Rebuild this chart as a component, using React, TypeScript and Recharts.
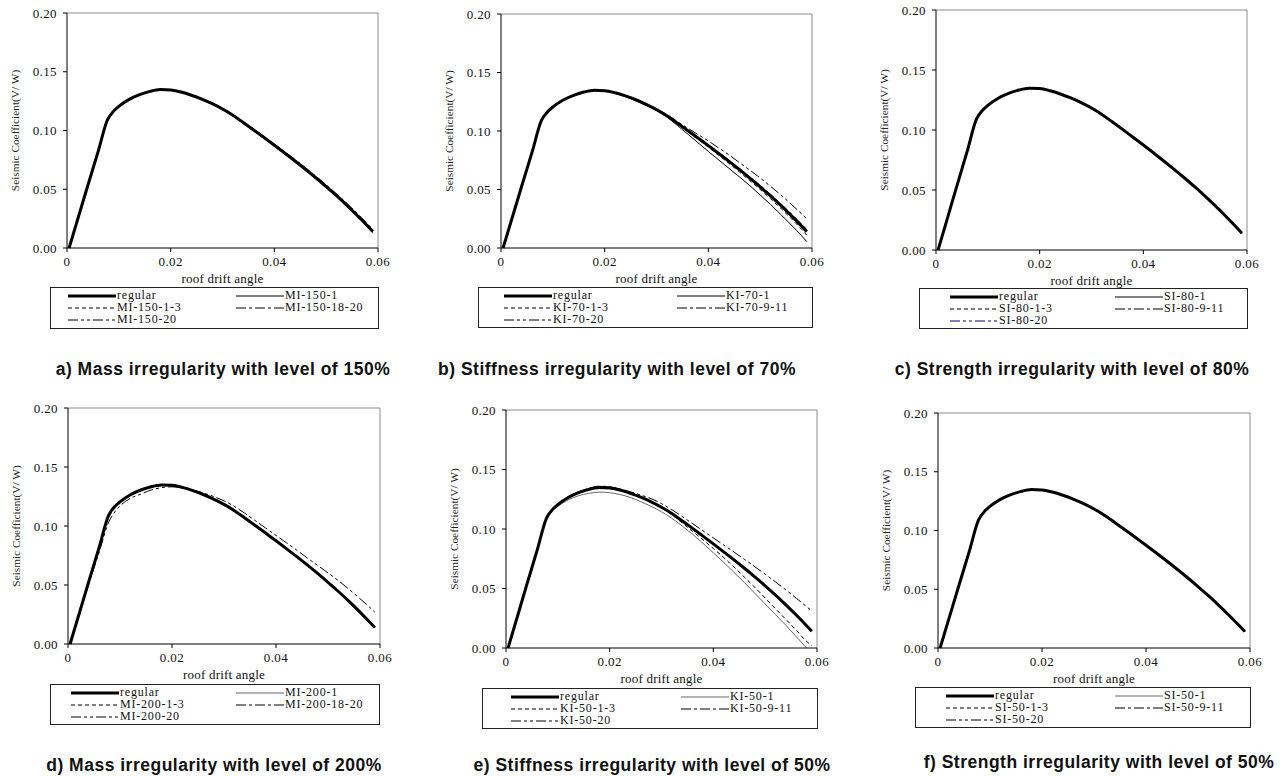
import { LineChart, Line, XAxis, YAxis, ReferenceLine } from 'recharts';

// roof drift angle sample points shared by every curve
const DRIFT = [0.0004, 0.002, 0.004, 0.006, 0.0078, 0.009, 0.010, 0.012, 0.014, 0.016, 0.018, 0.020, 0.022, 0.024, 0.026, 0.028, 0.030, 0.032, 0.034, 0.036, 0.038, 0.040, 0.042, 0.044, 0.046, 0.048, 0.050, 0.052, 0.054, 0.056, 0.058, 0.059];

const REGULAR = [0, 0.0235, 0.053, 0.082, 0.109, 0.1165, 0.1205, 0.1265, 0.1305, 0.1333, 0.1348, 0.1345, 0.1327, 0.1300, 0.1267, 0.1228, 0.1183, 0.1130, 0.1068, 0.1005, 0.0940, 0.0875, 0.0808, 0.0740, 0.0670, 0.0598, 0.0523, 0.0445, 0.0363, 0.0277, 0.0187, 0.0140];

// a) mass irregularity 150%
const MI_150_1 = [0, 0.0235, 0.053, 0.082, 0.109, 0.1165, 0.1205, 0.1265, 0.1305, 0.1333, 0.1348, 0.1345, 0.1327, 0.1300, 0.1268, 0.1230, 0.1185, 0.1133, 0.1072, 0.1010, 0.0946, 0.0881, 0.0815, 0.0747, 0.0677, 0.0604, 0.0530, 0.0452, 0.0370, 0.0284, 0.0194, 0.0148];
const MI_150_1_3 = [0, 0.0232, 0.0527, 0.0817, 0.1087, 0.1163, 0.1203, 0.1263, 0.1303, 0.1331, 0.1346, 0.1343, 0.1325, 0.1297, 0.1263, 0.1223, 0.1177, 0.1123, 0.1061, 0.0997, 0.0932, 0.0866, 0.0799, 0.0731, 0.0661, 0.0589, 0.0514, 0.0436, 0.0354, 0.0268, 0.0178, 0.0130];
const MI_150_18_20 = [0, 0.0236, 0.0532, 0.0822, 0.1092, 0.1167, 0.1207, 0.1267, 0.1307, 0.1335, 0.1350, 0.1347, 0.1330, 0.1303, 0.1271, 0.1233, 0.1189, 0.1137, 0.1076, 0.1014, 0.0950, 0.0886, 0.0820, 0.0753, 0.0684, 0.0612, 0.0538, 0.0461, 0.0380, 0.0295, 0.0205, 0.0158];
const MI_150_20 = [0, 0.0234, 0.0529, 0.0819, 0.1089, 0.1164, 0.1204, 0.1264, 0.1304, 0.1332, 0.1347, 0.1344, 0.1326, 0.1299, 0.1265, 0.1226, 0.1180, 0.1127, 0.1065, 0.1002, 0.0937, 0.0872, 0.0805, 0.0737, 0.0667, 0.0595, 0.0520, 0.0442, 0.0360, 0.0274, 0.0184, 0.0137];

// b) stiffness irregularity 70%
const KI_70_1 = [0, 0.0235, 0.053, 0.082, 0.109, 0.1165, 0.1203, 0.1262, 0.1301, 0.1328, 0.1343, 0.1340, 0.1322, 0.1294, 0.1260, 0.1220, 0.1178, 0.1120, 0.1048, 0.0975, 0.0900, 0.0825, 0.0753, 0.0680, 0.0608, 0.0533, 0.0453, 0.0372, 0.0286, 0.0197, 0.0104, 0.0055];
const KI_70_1_3 = [0, 0.0236, 0.0531, 0.0821, 0.1091, 0.1166, 0.1206, 0.1266, 0.1306, 0.1334, 0.1349, 0.1346, 0.1328, 0.1301, 0.1267, 0.1226, 0.1180, 0.1125, 0.1061, 0.0995, 0.0928, 0.0861, 0.0792, 0.0722, 0.0650, 0.0576, 0.0500, 0.0421, 0.0338, 0.0251, 0.0159, 0.0110];
const KI_70_9_11 = [0, 0.0234, 0.0529, 0.0819, 0.1089, 0.1165, 0.1205, 0.1266, 0.1306, 0.1334, 0.1349, 0.1346, 0.1328, 0.1302, 0.1269, 0.1231, 0.1186, 0.1134, 0.1073, 0.1011, 0.0947, 0.0883, 0.0817, 0.0750, 0.0681, 0.0610, 0.0536, 0.0459, 0.0378, 0.0293, 0.0204, 0.0158];
const KI_70_20 = [0, 0.0233, 0.0528, 0.0818, 0.1088, 0.1164, 0.1204, 0.1264, 0.1304, 0.1332, 0.1347, 0.1344, 0.1327, 0.1300, 0.1268, 0.1230, 0.1188, 0.1140, 0.1083, 0.1025, 0.0970, 0.0915, 0.0855, 0.0795, 0.0730, 0.0666, 0.0598, 0.0527, 0.0453, 0.0374, 0.0292, 0.0250];

// d) mass irregularity 200%
const MI_200_1 = [0, 0.0232, 0.0526, 0.0816, 0.1086, 0.1162, 0.1203, 0.1264, 0.1305, 0.1334, 0.1350, 0.1347, 0.1329, 0.1301, 0.1267, 0.1227, 0.1181, 0.1128, 0.1066, 0.1003, 0.0938, 0.0873, 0.0806, 0.0738, 0.0668, 0.0596, 0.0521, 0.0443, 0.0361, 0.0275, 0.0185, 0.0138];
const MI_200_1_3 = [0, 0.0228, 0.0518, 0.0805, 0.1070, 0.1150, 0.1195, 0.1258, 0.1300, 0.1330, 0.1346, 0.1344, 0.1327, 0.1301, 0.1268, 0.1229, 0.1184, 0.1132, 0.1070, 0.1007, 0.0943, 0.0878, 0.0811, 0.0744, 0.0674, 0.0602, 0.0527, 0.0450, 0.0368, 0.0282, 0.0192, 0.0146];
const MI_200_18_20 = [0, 0.0234, 0.0529, 0.0818, 0.1088, 0.1164, 0.1204, 0.1265, 0.1306, 0.1335, 0.1352, 0.1348, 0.1329, 0.1301, 0.1267, 0.1228, 0.1183, 0.1131, 0.1069, 0.1006, 0.0941, 0.0876, 0.0809, 0.0741, 0.0671, 0.0599, 0.0524, 0.0446, 0.0364, 0.0278, 0.0188, 0.0141];
const MI_200_20 = [0, 0.0225, 0.0510, 0.0780, 0.1030, 0.1120, 0.1170, 0.1235, 0.1270, 0.1305, 0.1325, 0.1332, 0.1322, 0.1305, 0.1280, 0.1250, 0.1213, 0.1166, 0.1108, 0.1046, 0.0983, 0.0920, 0.0858, 0.0795, 0.0730, 0.0666, 0.0603, 0.0537, 0.0465, 0.0390, 0.0312, 0.0270];

// e) stiffness irregularity 50%
const KI_50_1 = [0, 0.0235, 0.053, 0.082, 0.1085, 0.1155, 0.1190, 0.1245, 0.1280, 0.1300, 0.1310, 0.1305, 0.1290, 0.1265, 0.1230, 0.1190, 0.1145, 0.1090, 0.1025, 0.0955, 0.0880, 0.0800, 0.0720, 0.0635, 0.0550, 0.0460, 0.0370, 0.0280, 0.0190, 0.0095, 0.0000, null];
const KI_50_1_3 = [0, 0.0236, 0.0532, 0.0822, 0.1092, 0.1166, 0.1206, 0.1266, 0.1307, 0.1336, 0.1352, 0.1350, 0.1330, 0.1300, 0.1265, 0.1225, 0.1178, 0.1120, 0.1050, 0.0980, 0.0910, 0.0836, 0.0760, 0.0680, 0.0595, 0.0510, 0.0420, 0.0330, 0.0240, 0.0150, 0.0055, 0.0020];
const KI_50_9_11 = [0, 0.0237, 0.0533, 0.0824, 0.1094, 0.1168, 0.1208, 0.1270, 0.1312, 0.1342, 0.1360, 0.1355, 0.1335, 0.1306, 0.1272, 0.1232, 0.1186, 0.1132, 0.1070, 0.1007, 0.0942, 0.0877, 0.0810, 0.0742, 0.0672, 0.0600, 0.0525, 0.0447, 0.0365, 0.0279, 0.0189, 0.0142];
const KI_50_20 = [0, 0.0236, 0.0531, 0.0821, 0.1091, 0.1167, 0.1208, 0.1270, 0.1312, 0.1342, 0.1358, 0.1353, 0.1337, 0.1313, 0.1285, 0.1255, 0.1213, 0.1162, 0.1105, 0.1045, 0.0985, 0.0925, 0.0866, 0.0806, 0.0745, 0.0683, 0.0620, 0.0555, 0.0488, 0.0418, 0.0347, 0.0311];

// c) and f) strength irregularity: all curves lie on top of the regular one

const X_TICKS = [0, 0.02, 0.04, 0.06];
const Y_TICKS = [0, 0.05, 0.1, 0.15, 0.2];

const NAMES_A = ['regular', 'MI-150-1', 'MI-150-1-3', 'MI-150-18-20', 'MI-150-20'];
const NAMES_B = ['regular', 'KI-70-1', 'KI-70-1-3', 'KI-70-9-11', 'KI-70-20'];
const NAMES_C = ['regular', 'SI-80-1', 'SI-80-1-3', 'SI-80-9-11', 'SI-80-20'];
const NAMES_D = ['regular', 'MI-200-1', 'MI-200-1-3', 'MI-200-18-20', 'MI-200-20'];
const NAMES_E = ['regular', 'KI-50-1', 'KI-50-1-3', 'KI-50-9-11', 'KI-50-20'];
const NAMES_F = ['regular', 'SI-50-1', 'SI-50-1-3', 'SI-50-9-11', 'SI-50-20'];

const CAPTIONS = [
  'a) Mass irregularity with level of 150%',
  'b) Stiffness irregularity with level of 70%',
  'c) Strength irregularity with level of 80%',
  'd) Mass irregularity with level of 200%',
  'e) Stiffness irregularity with level of 50%',
  'f) Strength irregularity with level of 50%',
];

const SERIF = '"Liberation Serif", "Times New Roman", Times, serif';
const SANS = '"Liberation Sans", Arial, Helvetica, sans-serif';

// look of the five series slots: regular, -1, -1-3, mid storeys, -20
const SLOT_STYLE = [
  { width: 3, dash: undefined },
  { width: 1, dash: undefined },
  { width: 1, dash: '4 3' },
  { width: 1, dash: '10 3 3 3' },
  { width: 1, dash: '10 3 3 3 3 3' },
];
// variants first, the thick regular curve last so it sits on top
const DRAW_ORDER = [1, 2, 3, 4, 0];

const LEGEND_ROWS = [[0, 1], [2, 3], [4]];
const ROW_Y = [7.5, 19.5, 31.5];
const Y_AXIS_W = 104;

type Plot = { l: number; t: number; r: number; b: number };
type LegendPos = { left: number; top: number; width: number; height: number; c1: number; c2: number };

interface PanelProps {
  plot: Plot;
  names: string[];
  values: (number | null)[][];
  colors: string[];
  legend: LegendPos;
  caption: string;
  cap: { cx: number; cy: number };
}

function LegendBox({ names, colors, legend }: { names: string[]; colors: string[]; legend: LegendPos }) {
  return (
    <div
      style={{
        position: 'absolute', left: legend.left, top: legend.top, width: legend.width, height: legend.height,
        border: '1px solid #222', boxSizing: 'border-box', fontFamily: SERIF, fontSize: 12, color: '#111',
        letterSpacing: 0.8, background: '#fff',
      }}
    >
      {LEGEND_ROWS.map((row, ri) =>
        row.map((k, ci) => (
          <div
            key={k}
            style={{
              position: 'absolute', left: ci === 0 ? legend.c1 : legend.c2, top: ROW_Y[ri] - 5.5, height: 11,
              display: 'flex', alignItems: 'center', whiteSpace: 'nowrap',
            }}
          >
            <svg width={48} height={6} style={{ display: 'block' }}>
              <line
                x1={0} x2={48} y1={3} y2={3}
                stroke={colors[k]}
                strokeWidth={SLOT_STYLE[k].width}
                strokeDasharray={SLOT_STYLE[k].dash}
              />
            </svg>
            <span style={{ marginLeft: 1, lineHeight: '11px' }}>{names[k]}</span>
          </div>
        ))
      )}
    </div>
  );
}

function Panel({ plot, names, values, colors, legend, caption, cap }: PanelProps) {
  const w = plot.r - plot.l;
  const h = plot.b - plot.t;
  const data = DRIFT.map((x, i) => {
    const row: Record<string, number | null> = { x };
    values.forEach((v, k) => { row['s' + k] = v[i]; });
    return row;
  });

  return (
    <>
      <div style={{ position: 'absolute', left: plot.l - Y_AXIS_W, top: plot.t - 10, fontFamily: SERIF }}>
        <LineChart width={w + Y_AXIS_W + 20} height={h + 50} data={data} margin={{ top: 10, right: 20, bottom: 0, left: 0 }}>
          <XAxis
            type="number" dataKey="x" domain={[0, 0.06]} ticks={X_TICKS} interval={0}
            height={40} tickSize={4} tickMargin={5} stroke="#000"
            tick={{ fontSize: 13, fill: '#111', fontFamily: SERIF, letterSpacing: 0.4 }}
            tickFormatter={(v: number) => (v === 0 ? '0' : v.toFixed(2))}
            label={{ value: 'roof drift angle', position: 'insideBottom', offset: 5, fontSize: 13, fill: '#111', fontFamily: SERIF, letterSpacing: 0.2 }}
          />
          <YAxis
            type="number" domain={[0, 0.2]} ticks={Y_TICKS} interval={0}
            width={Y_AXIS_W} tickSize={4} tickMargin={6} stroke="#000"
            tick={{ fontSize: 13, fill: '#111', fontFamily: SERIF, letterSpacing: 0.4 }}
            tickFormatter={(v: number) => v.toFixed(2)}
            label={{ value: 'Seismic Coefficient(V/ W)', angle: -90, position: 'center', fontSize: 11.3, fill: '#222', fontFamily: SERIF }}
          />
          <ReferenceLine y={0.2} stroke="#8c8c8c" />
          <ReferenceLine x={0.06} stroke="#8c8c8c" />
          {DRAW_ORDER.map((k) => (
            <Line
              key={k}
              dataKey={'s' + k}
              type="monotone"
              stroke={colors[k]}
              strokeWidth={SLOT_STYLE[k].width}
              strokeDasharray={SLOT_STYLE[k].dash}
              dot={false}
              isAnimationActive={false}
            />
          ))}
        </LineChart>
      </div>
      <LegendBox names={names} colors={colors} legend={legend} />
      <div
        style={{
          position: 'absolute', left: cap.cx - 260, top: cap.cy - 11, width: 520, textAlign: 'center',
          fontFamily: SANS, fontWeight: 'bold', fontSize: 17.5, letterSpacing: 0.5, lineHeight: '22px', color: '#111',
        }}
      >
        {caption}
      </div>
    </>
  );
}

const BLACK = ['#000', '#000', '#000', '#000', '#000'];
const GREY_ONE = ['#000', '#666', '#000', '#000', '#000'];
const NAVY_TWENTY = ['#000', '#000', '#000', '#000', '#000080'];

export default function App() {
  return (
    <div style={{ position: 'absolute', left: 0, top: 0, width: 1284, height: 776, background: '#fff', overflow: 'hidden' }}>
      <Panel
        plot={{ l: 67, t: 13, r: 378, b: 248 }}
        names={NAMES_A}
        values={[REGULAR, MI_150_1, MI_150_1_3, MI_150_18_20, MI_150_20]}
        colors={BLACK}
        legend={{ left: 50, top: 287, width: 329, height: 42, c1: 17, c2: 185 }}
        caption={CAPTIONS[0]}
        cap={{ cx: 223, cy: 369 }}
      />
      <Panel
        plot={{ l: 501, t: 14, r: 812, b: 248 }}
        names={NAMES_B}
        values={[REGULAR, KI_70_1, KI_70_1_3, KI_70_9_11, KI_70_20]}
        colors={BLACK}
        legend={{ left: 478, top: 287, width: 335, height: 41, c1: 25, c2: 198 }}
        caption={CAPTIONS[1]}
        cap={{ cx: 617, cy: 369 }}
      />
      <Panel
        plot={{ l: 936, t: 10, r: 1247, b: 250 }}
        names={NAMES_C}
        values={[REGULAR, REGULAR, REGULAR, REGULAR, REGULAR]}
        colors={NAVY_TWENTY}
        legend={{ left: 919, top: 288, width: 329, height: 41, c1: 30, c2: 195 }}
        caption={CAPTIONS[2]}
        cap={{ cx: 1072, cy: 369 }}
      />
      <Panel
        plot={{ l: 68, t: 408, r: 380, b: 644 }}
        names={NAMES_D}
        values={[REGULAR, MI_200_1, MI_200_1_3, MI_200_18_20, MI_200_20]}
        colors={GREY_ONE}
        legend={{ left: 50, top: 684, width: 330, height: 41, c1: 20, c2: 185 }}
        caption={CAPTIONS[3]}
        cap={{ cx: 214, cy: 765 }}
      />
      <Panel
        plot={{ l: 506, t: 410, r: 817, b: 648 }}
        names={NAMES_E}
        values={[REGULAR, KI_50_1, KI_50_1_3, KI_50_9_11, KI_50_20]}
        colors={GREY_ONE}
        legend={{ left: 482, top: 688, width: 336, height: 41, c1: 28, c2: 198 }}
        caption={CAPTIONS[4]}
        cap={{ cx: 652, cy: 765 }}
      />
      <Panel
        plot={{ l: 938, t: 413, r: 1250, b: 648 }}
        names={NAMES_F}
        values={[REGULAR, REGULAR, REGULAR, REGULAR, REGULAR]}
        colors={GREY_ONE}
        legend={{ left: 915, top: 687, width: 336, height: 41, c1: 30, c2: 199 }}
        caption={CAPTIONS[5]}
        cap={{ cx: 1099, cy: 762 }}
      />
    </div>
  );
}
